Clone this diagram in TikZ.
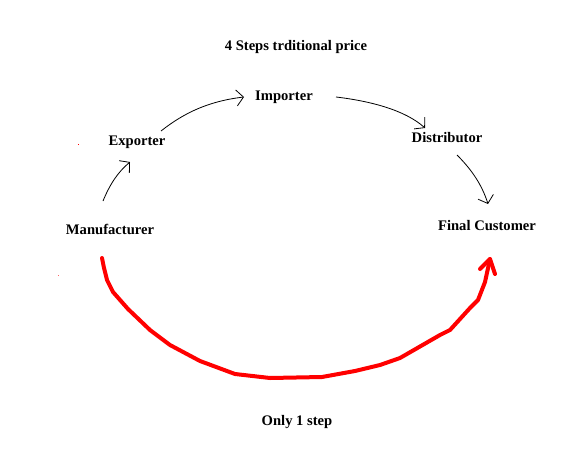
\documentclass[tikz,border=0pt]{standalone}
\usepackage{fontspec}
\setmainfont{Liberation Serif}
\usetikzlibrary{arrows.meta}
\begin{document}
\begin{tikzpicture}[x=1pt,y=-1pt,
  lbl/.style={font=\fontsize{14.6}{16}\selectfont\bfseries, inner sep=0pt, anchor=center},
  thin/.style={line width=0.8pt, -{Straight Barb[length=7pt,width=16pt,line width=0.8pt]}},
  redline/.style={red, line width=4pt, line cap=round, line join=round}]
\useasboundingbox (0,0) rectangle (585,468);
\node[lbl] (title) at (296,47) {4 Steps trditional price};
\node[lbl] (imp) at (284,97) {Importer};
\node[lbl] (exp) at (137,142) {Exporter};
\node[lbl] (dis) at (447,138) {Distributor};
\node[lbl] (man) at (110,229) {Manufacturer};
\node[lbl] (fin) at (487,226) {Final Customer};
\node[lbl] (one) at (297,422) {Only 1 step};
\coordinate (m1) at (103,201);
\coordinate (e0) at (130,162);
\coordinate (e1) at (161,131);
\coordinate (i0) at (244,97);
\coordinate (i1) at (336,97);
\coordinate (d0) at (425,128);
\coordinate (d1) at (457,155);
\coordinate (f0) at (488,204);
\coordinate (r0) at (102,258);
\coordinate (r1) at (490,259);
\coordinate (rb1) at (480,269);
\coordinate (rb2) at (495,274);
\draw[thin] (m1) .. controls (110,184) and (118,172) .. (e0);
\draw[thin] (e1) .. controls (185,112) and (210,101) .. (i0);
\draw[thin] (i1) .. controls (370,101) and (405,110) .. (d0);
\draw[thin] (d1) .. controls (472,170) and (482,185) .. (f0);
\draw[redline] (r0) -- (104,268) -- (107,280) -- (113,292) -- (128,309) -- (150,330)
  -- (170,345) -- (200,361) -- (235,374) -- (270,378) -- (322,377) -- (355,371)
  -- (380,365) -- (400,358) -- (440,335) -- (450,330) -- (470,308) -- (478,300)
  -- (485,282) -- (r1);
\draw[redline] (rb1) -- (r1) -- (rb2);
\fill[red] (77.5,143.5) rectangle (79,145);
\fill[red!60] (57.5,274.5) rectangle (58.5,275.5);
\end{tikzpicture}
\end{document}
